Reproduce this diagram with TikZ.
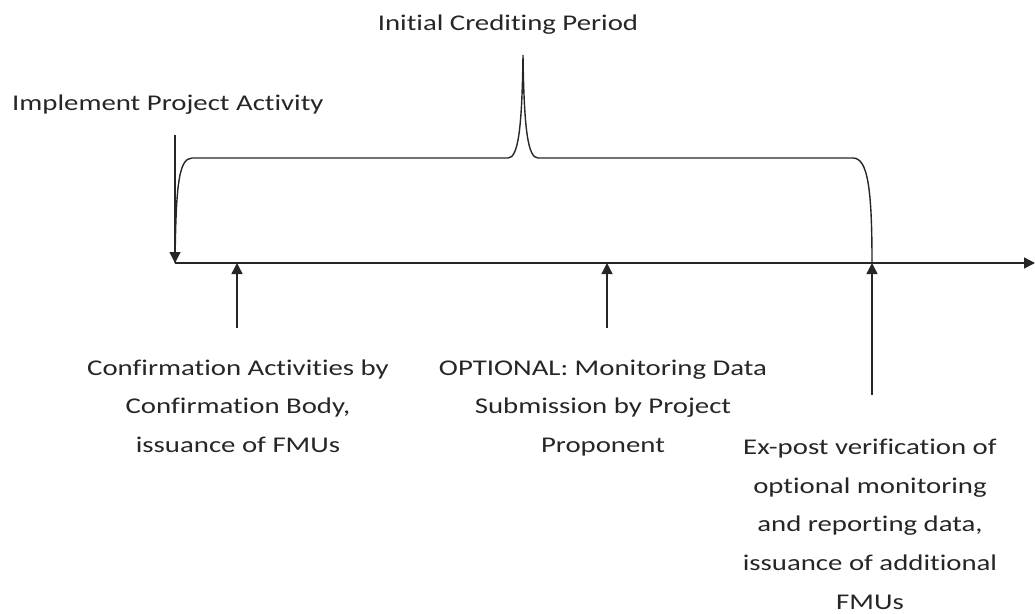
\documentclass[tikz,border=0pt]{standalone}
\usepackage{fontspec}
\setmainfont{Carlito}
\newfontfamily\widefont[FakeStretch=1.28,RawFeature={-liga;-dlig;-clig}]{Carlito}
\usetikzlibrary{arrows.meta}
\begin{document}
\begin{tikzpicture}[x=1pt,y=-1pt,
  line/.style={line width=1.4pt, draw=black!85},
  tip/.style={-{Triangle[width=11pt,length=11pt]}},
  lbl/.style={font=\widefont\fontsize{22.5}{38.6}\selectfont, align=center, inner sep=0pt, text=black!85}]
\useasboundingbox (0,0) rectangle (1035,613);
% coordinates
\coordinate (t0) at (175,263);
\coordinate (tend) at (1035,263);
\coordinate (tA) at (237,263);
\coordinate (tB) at (607,263);
\coordinate (tC) at (872,263);
\coordinate (impTop) at (175,135);
\coordinate (aBot) at (237,328);
\coordinate (bBot) at (607,328);
\coordinate (cBot) at (872,395);
% texts (base anchor = baseline of last line)
\node[lbl, anchor=base] (title) at (508,30) {Initial Crediting Period};
\node[lbl, anchor=base west] (impl) at (12,110) {Implement Project Activity};
\node[lbl, anchor=base] (confA) at (238,452.2) {Confirmation Activities by\\Confirmation Body,\\issuance of FMUs};
\node[lbl, anchor=base] (optB) at (603,452.2) {OPTIONAL: Monitoring Data\\Submission by Project\\Proponent};
\node[lbl, anchor=base] (expC) at (870,609) {Ex-post verification of\\optional monitoring\\and reporting data,\\issuance of additional\\FMUs};
% timeline
\draw[line, tip] (t0) -- (tend);
% brace
\draw[line] (t0) .. controls (176,190) and (178,158) .. (192,158)
  -- (508,158) .. controls (518,158) and (522,130) .. (523,55)
  .. controls (524,130) and (528,158) .. (538,158)
  -- (853,158) .. controls (868,158) and (872,190) .. (tC);
% arrows
\draw[line, tip] (impTop) -- (t0);
\draw[line, tip] (aBot) -- (tA);
\draw[line, tip] (bBot) -- (tB);
\draw[line, tip] (cBot) -- (tC);
\end{tikzpicture}
\end{document}
